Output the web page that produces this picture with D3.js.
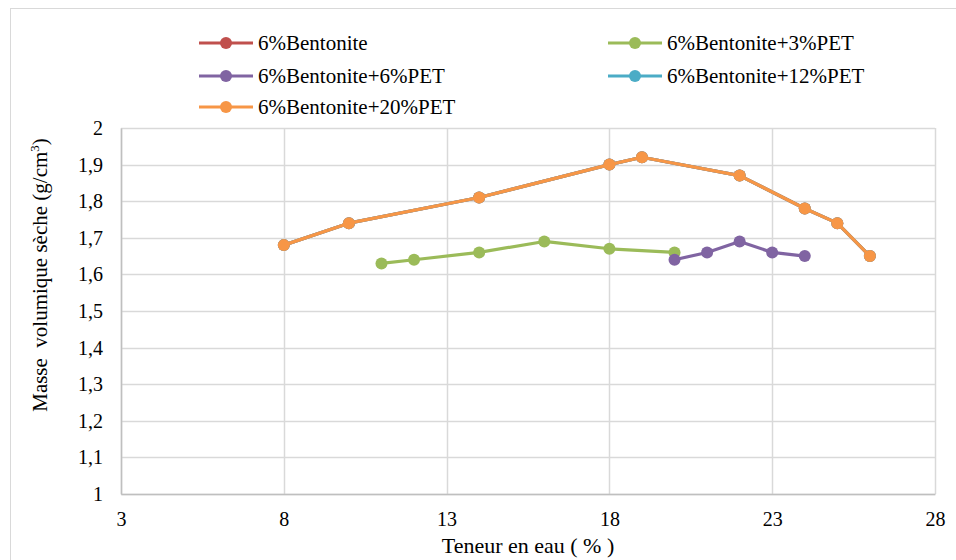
<!DOCTYPE html>
<html><head><meta charset="utf-8">
<script src="https://cdn.jsdelivr.net/npm/d3@7"></script>
</head><body style="margin:0;background:#fff"><svg id="c" width="956" height="560" style="display:block"></svg>
<script>
const seriesNames = ["6%Bentonite","6%Bentonite+3%PET","6%Bentonite+6%PET","6%Bentonite+12%PET","6%Bentonite+20%PET"];
const seriesColors = ["#c0504d","#9bbb59","#8064a2","#4bacc6","#f79646"];
const xBentonite = [8,10,14,18,19,22,24,25,26];
const yBentonite = [1.68,1.74,1.81,1.90,1.92,1.87,1.78,1.74,1.65];
const xPET3 = [11,12,14,16,18,20];
const yPET3 = [1.63,1.64,1.66,1.69,1.67,1.66];
const xPET6 = [20,21,22,23,24];
const yPET6 = [1.64,1.66,1.69,1.66,1.65];
const xPET12 = [8,10,14,18,19,22,24,25,26];
const yPET12 = [1.68,1.74,1.81,1.90,1.92,1.87,1.78,1.74,1.65];
const xPET20 = [8,10,14,18,19,22,24,25,26];
const yPET20 = [1.68,1.74,1.81,1.90,1.92,1.87,1.78,1.74,1.65];
const xTicks = [3,8,13,18,23,28];
const yTicks = [1,1.1,1.2,1.3,1.4,1.5,1.6,1.7,1.8,1.9,2];

const seriesX = [xBentonite,xPET3,xPET6,xPET12,xPET20];
const seriesY = [yBentonite,yPET3,yPET6,yPET12,yPET20];
const FONT = "Liberation Serif";

const svg = d3.select("#c").attr("font-family",FONT);
svg.append("rect").attr("x",10.5).attr("y",8.5).attr("width",960).attr("height",600)
  .attr("fill","none").attr("stroke","#d9d9d9").attr("stroke-width",1);

const L=121,R=935,T=128,B=494;
const x = d3.scaleLinear().domain([3,28]).range([L,R]);
const y = d3.scaleLinear().domain([1,2]).range([B,T]);

const g = svg.append("g");
g.selectAll(".gx").data(xTicks).join("line")
  .attr("x1",d=>Math.round(x(d))+0.5).attr("x2",d=>Math.round(x(d))+0.5)
  .attr("y1",T).attr("y2",B).attr("stroke","#d9d9d9").attr("stroke-width",1.5);
g.selectAll(".gy").data(yTicks).join("line")
  .attr("y1",d=>Math.round(y(d))+0.5).attr("y2",d=>Math.round(y(d))+0.5)
  .attr("x1",L).attr("x2",R).attr("stroke","#d9d9d9").attr("stroke-width",1.5);

// text drawn at double size and scaled down by half
const fmt = d=>d3.format(".1~f")(d).replace(".",",");
const xa = svg.append("g").attr("transform",`translate(0,${B})`)
  .call(d3.axisBottom(x).tickValues(xTicks).tickSize(0).tickPadding(18));
xa.attr("font-family",FONT).attr("font-size",40);
xa.select(".domain").attr("stroke","#bfbfbf").attr("stroke-width",1.5);
xa.selectAll("text").attr("fill","#000").attr("y",36).attr("transform","scale(0.5)");
const ya = svg.append("g").attr("transform",`translate(${L},0)`)
  .call(d3.axisLeft(y).tickValues(yTicks).tickFormat(fmt).tickSize(0).tickPadding(18));
ya.attr("font-family",FONT).attr("font-size",40);
ya.select(".domain").attr("stroke","#bfbfbf").attr("stroke-width",1.5);
ya.selectAll("text").attr("fill","#000").attr("x",-36).attr("transform","scale(0.5)");

const line = d3.line().x(d=>x(d[0])).y(d=>y(d[1]));
seriesNames.forEach((n,i)=>{
  const pts = seriesX[i].map((v,j)=>[v,seriesY[i][j]]);
  const s = svg.append("g");
  s.append("path").datum(pts).attr("d",line).attr("fill","none")
    .attr("stroke",seriesColors[i]).attr("stroke-width",3.2).attr("stroke-linejoin","round");
  s.selectAll("circle").data(pts).join("circle")
    .attr("cx",d=>x(d[0])).attr("cy",d=>y(d[1])).attr("r",6).attr("fill",seriesColors[i]);
});

const legPos = [[199,43],[608,43],[199,76],[608,76],[199,107]];
seriesNames.forEach((n,i)=>{
  const [lx,ly]=legPos[i];
  const lg = svg.append("g");
  lg.append("line").attr("x1",lx).attr("x2",lx+54).attr("y1",ly).attr("y2",ly)
    .attr("stroke",seriesColors[i]).attr("stroke-width",3.2);
  lg.append("circle").attr("cx",lx+27).attr("cy",ly).attr("r",6).attr("fill",seriesColors[i]);
  lg.append("text").attr("transform",`translate(${lx+59},${ly+7}) scale(0.5)`)
    .attr("font-family",FONT).attr("font-size",42).text(n);
});

svg.append("text").attr("transform","translate(528,553) scale(0.5)").attr("text-anchor","middle")
  .attr("font-family",FONT).attr("font-size",44).text("Teneur en eau ( % )");
const yt = svg.append("text").attr("transform","translate(47,275) rotate(-90)").attr("text-anchor","middle")
  .attr("font-family",FONT).attr("font-size",21).attr("xml:space","preserve").style("white-space","pre");
yt.append("tspan").text("Masse  volumique sèche (g/cm");
yt.append("tspan").attr("font-size",13).attr("dy",-8).text("3");
yt.append("tspan").attr("dy",8).text(")");
</script></body></html>
